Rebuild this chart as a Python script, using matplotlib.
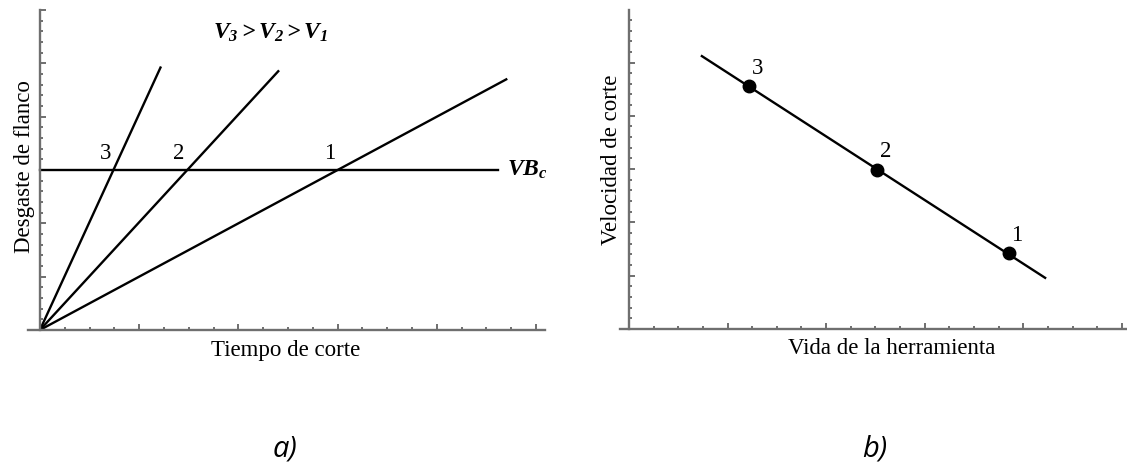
import matplotlib
matplotlib.use('Agg')
import matplotlib.pyplot as plt
from matplotlib.ticker import MultipleLocator

plt.rcParams['font.family'] = ['Liberation Serif', 'DejaVu Serif']
plt.rcParams['mathtext.fontset'] = 'custom'
plt.rcParams['mathtext.it'] = 'Liberation Serif:italic:bold'
plt.rcParams['mathtext.rm'] = 'Liberation Serif:italic:bold'
plt.rcParams['mathtext.bf'] = 'Liberation Serif:italic:bold'

# a) flank wear vs cutting time, one line per cutting speed (1, 2, 3)
speed_labels = ['1', '2', '3']
wear_slopes = [1.0, 2.02, 4.05]
time_end = [4.71, 2.41, 1.22]
vb_critical = 3.0
vb_line_end = 4.62

# b) cutting speed vs tool life
life_points = [3.85, 2.52, 1.22]
speed_points = [1.42, 2.99, 4.55]
life_line = [0.74, 4.22]
speed_line = [5.12, 0.96]

W, H = 1127, 465
fig = plt.figure(figsize=(W / 100, H / 100), dpi=100)

AX_GRAY = '#6f6f6f'
FS = 16.5


def px_box(left, right, top, bottom):
    return [left / W, 1 - bottom / H, (right - left) / W, (bottom - top) / H]


def style_axes(ax, xlim, ylim):
    ax.set_xlim(*xlim)
    ax.set_ylim(*ylim)
    for s in ['top', 'right']:
        ax.spines[s].set_visible(False)
    ax.spines['left'].set_position(('data', 0))
    for s in ['left', 'bottom']:
        ax.spines[s].set_color(AX_GRAY)
        ax.spines[s].set_linewidth(1.7)
    ax.xaxis.set_major_locator(MultipleLocator(1))
    ax.xaxis.set_minor_locator(MultipleLocator(0.25))
    ax.yaxis.set_major_locator(MultipleLocator(1))
    ax.yaxis.set_minor_locator(MultipleLocator(0.2))
    ax.tick_params(which='both', direction='in', color=AX_GRAY, width=1.4,
                   labelbottom=False, labelleft=False)
    ax.tick_params(which='major', length=4.2)
    ax.tick_params(which='minor', length=2.4)
    ax.patch.set_alpha(0)


# ---- panel a)
ax1 = fig.add_axes(px_box(28, 545, 10, 330))
style_axes(ax1, (-0.12, 5.09), (0, 6))

for lab, k, t in zip(speed_labels, wear_slopes, time_end):
    ax1.plot([0, t], [0, k * t], color='black', lw=1.7, solid_capstyle='butt')
    ax1.annotate(lab, (vb_critical / k, vb_critical), xytext=(-6, 12),
                 textcoords='offset points', ha='center', va='center',
                 fontsize=FS)

ax1.plot([0, vb_line_end], [vb_critical, vb_critical], color='black', lw=1.7)
ax1.annotate(r'$VB_c$', (vb_line_end, vb_critical), xytext=(6, 0),
             textcoords='offset points', ha='left', va='center', fontsize=17)
ax1.text(2.32, 5.58, r'$V_3 > V_2 > V_1$', ha='center', va='center',
         fontsize=17)

fig.text(25 / W, 1 - 167 / H, 'Desgaste de flanco', rotation=90,
         ha='center', va='center', fontsize=FS)
fig.text(286 / W, 1 - 350 / H, 'Tiempo de corte', ha='center',
         va='center', fontsize=FS)

# ---- panel b)
ax2 = fig.add_axes(px_box(620, 1127, 10, 329))
style_axes(ax2, (-0.09, 5.05), (0, 5.985))

ax2.plot(life_line, speed_line, color='black', lw=1.7)
ax2.plot(life_points, speed_points, 'o', color='black', markersize=9)
for lab, x, y in zip(speed_labels, life_points, speed_points):
    ax2.annotate(lab, (x, y), xytext=(6, 13), textcoords='offset points',
                 ha='center', va='center', fontsize=FS)

fig.text(612 / W, 1 - 160 / H, 'Velocidad de corte', rotation=90,
         ha='center', va='center', fontsize=FS)
fig.text(892 / W, 1 - 348 / H, 'Vida de la herramienta', ha='center',
         va='center', fontsize=FS)

# ---- panel captions
fig.text(285 / W, 1 - 449 / H, 'a)', ha='center', va='center',
         fontsize=21, style='italic', family=['Open Sans', 'DejaVu Sans'])
fig.text(875 / W, 1 - 449 / H, 'b)', ha='center', va='center',
         fontsize=21, style='italic', family=['Open Sans', 'DejaVu Sans'])

fig.savefig('out.png', dpi=100)
